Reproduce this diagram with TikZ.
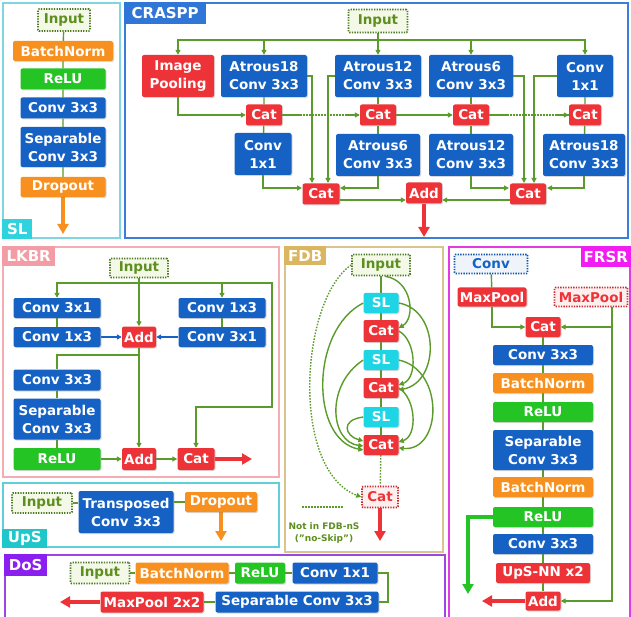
\documentclass[tikz,border=0pt]{standalone}
\usepackage{fontspec}
\setmainfont{DejaVu Sans}
\usetikzlibrary{arrows.meta,shadows,calc}
\definecolor{cblue}{HTML}{1662C4}
\definecolor{cred}{HTML}{EE3338}
\definecolor{corange}{HTML}{F7901E}
\definecolor{cgreen}{HTML}{25C425}
\definecolor{ccyan}{HTML}{1ED5E6}
\definecolor{cwire}{HTML}{5B9B2B}
\definecolor{cdot}{HTML}{4E7A26}
\definecolor{cinfill}{HTML}{F4F8E6}
\definecolor{cintext}{HTML}{5D8F1F}
\definecolor{fSL}{HTML}{7FD6E0}\definecolor{lSL}{HTML}{2ED3DE}
\definecolor{fCR}{HTML}{3C7DD9}\definecolor{lCR}{HTML}{2F76D6}
\definecolor{fLK}{HTML}{F4AEB3}\definecolor{lLK}{HTML}{F49CA5}
\definecolor{fFD}{HTML}{D8C48C}\definecolor{lFD}{HTML}{D9B65F}
\definecolor{fFR}{HTML}{E23BE6}\definecolor{lFR}{HTML}{F01EF0}
\definecolor{fUP}{HTML}{5FCFD8}\definecolor{lUP}{HTML}{1FC7CB}
\definecolor{fDO}{HTML}{9B47E0}\definecolor{lDO}{HTML}{8A1FEF}
\newcommand\boxfont{\bfseries\fontsize{13.5}{18}\selectfont}
\newcommand\labfont{\bfseries\fontsize{15}{18}\selectfont}
\newcommand\legfont{\bfseries\fontsize{9}{12}\selectfont}
\pgfdeclarelayer{panels}\pgfdeclarelayer{wires}
\pgfsetlayers{panels,wires,main}
\begin{document}
\begin{tikzpicture}[x=1pt,y=-1pt,
  box/.style={rounded corners=2pt, text=white, font=\boxfont, align=center, inner sep=0pt,
    drop shadow={shadow xshift=1pt, shadow yshift=-1pt, opacity=0.3}},
  bl/.style={box, fill=cblue}, rd/.style={box, fill=cred}, og/.style={box, fill=corange},
  gn/.style={box, fill=cgreen}, cy/.style={box, fill=ccyan},
  inp/.style={rounded corners=1pt, draw=cdot, fill=cinfill, text=cintext, font=\boxfont,
    line width=1.6pt, dash pattern=on 1.3pt off 1.3pt, inner sep=0pt},
  rdot/.style={inp, draw=cred!85!black, fill=cred!8, text=cred},
  bdot/.style={inp, draw=cblue!85!black, fill=cblue!7, text=cblue},
  sz/.style 2 args={minimum width=#1pt, minimum height=#2pt},
  frame/.style={line width=2pt, fill=white},
  lab/.style={font=\labfont, text=white, inner sep=0pt, anchor=north west},
  conn/.style={draw=cwire, line width=1.4pt},
  bconn/.style={draw=cblue, line width=1.4pt},
  tip/.style={-{Triangle[length=5pt,width=5pt]}},
  dots/.style={dash pattern=on 1.5pt off 1.5pt},
  big/.style={line width=4pt, -{Triangle[length=10pt,width=11pt]}}]
\clip (0,0) rectangle (631,617);
\begin{pgfonlayer}{panels}
\fill[white] (0,0) rectangle (631,617);
\draw[frame, draw=fSL] (3,3) rectangle (120,238);
\draw[frame, draw=fCR] (125,3) rectangle (628,238);
\draw[frame, draw=fLK] (3,247) rectangle (279,477);
\draw[frame, draw=fFD] (285,247) rectangle (443,552);
\draw[frame, draw=fFR] (449,247) rectangle (630,650);
\draw[frame, draw=fUP] (3,483) rectangle (279,547);
\draw[frame, draw=fDO] (5,555) rectangle (445,650);
\end{pgfonlayer}
% labels
\node[lab, fill=lSL, sz={30}{20}, anchor=south west] (sllab) at (2,239) {SL};
\node[lab, fill=lCR, sz={82}{22}] (crlab) at (124,2) {CRASPP};
\node[lab, fill=lLK, sz={53}{20}] (lklab) at (2,246) {LKBR};
\node[lab, fill=lFD, sz={42}{19}] (fdlab) at (284,246) {FDB};
\node[lab, fill=lFR, sz={50}{21}, anchor=north east] (frlab) at (631,246) {FRSR};
\node[lab, fill=lUP, sz={45}{19}, anchor=south west] (uplab) at (2,548) {UpS};
\node[lab, fill=lDO, sz={43}{22}] (dolab) at (4,554) {DoS};

% ===== SL =====
\node[inp, sz={52}{22}] (sin) at (64,20) {Input};
\node[og, sz={100}{20}] (sbn) at (63,51) {BatchNorm};
\node[gn, sz={85}{21}] (srelu) at (63,79) {ReLU};
\node[bl, sz={85}{21}] (sc3) at (63,108) {Conv 3x3};
\node[bl, sz={85}{40}] (ssep) at (63,147) {Separable\\Conv 3x3};
\node[og, sz={85}{20}] (sdrop) at (63,187) {Dropout};
\coordinate (slout) at (63,234);
\begin{pgfonlayer}{wires}
\draw[conn] (sin) -- (sbn) -- (srelu) -- (sc3) -- (ssep) -- (sdrop);
\draw[big, draw=corange] (sdrop) -- (slout);
\end{pgfonlayer}

% ===== CRASPP =====
\node[inp, sz={59}{23}] (cin) at (378,21) {Input};
\node[rd, sz={72}{42}] (cip) at (178,76) {Image\\Pooling};
\node[bl, sz={86}{42}] (ca18) at (264,76) {Atrous18\\Conv 3x3};
\node[bl, sz={86}{42}] (ca12) at (378,76) {Atrous12\\Conv 3x3};
\node[bl, sz={84}{42}] (ca6) at (471,76) {Atrous6\\Conv 3x3};
\node[bl, sz={56}{42}] (cc1) at (585,76) {Conv\\1x1};
\node[rd, sz={36}{21}] (ccat1) at (264,115) {Cat};
\node[rd, sz={36}{21}] (ccat2) at (378,115) {Cat};
\node[rd, sz={36}{21}] (ccat3) at (471,115) {Cat};
\node[rd, sz={32}{21}] (ccat4) at (585,115) {Cat};
\node[bl, sz={57}{42}] (cb1) at (263,154) {Conv\\1x1};
\node[bl, sz={84}{42}] (cb6) at (378,155) {Atrous6\\Conv 3x3};
\node[bl, sz={84}{42}] (cb12) at (471,155) {Atrous12\\Conv 3x3};
\node[bl, sz={82}{42}] (cb18) at (584,155) {Atrous18\\Conv 3x3};
\node[rd, sz={37}{21}] (ccatL) at (321,194) {Cat};
\node[rd, sz={36}{21}] (cadd) at (424,193) {Add};
\node[rd, sz={36}{21}] (ccatR) at (528,194) {Cat};
\coordinate (cbus) at (378,40);
\coordinate (cL1) at (312,183);
\coordinate (cL2) at (328,183);
\coordinate (cR1) at (524,183);
\coordinate (cR2) at (534,183);
\coordinate (cLw) at (302,188);
\coordinate (cLe) at (340,188);
\coordinate (cRw) at (509,188);
\coordinate (cRe) at (547,188);
\coordinate (cout) at (424,237);
\begin{pgfonlayer}{wires}
\draw[conn,tip] (cin) -- (ca12);
\draw[conn,tip] (cbus) -| (cip);
\draw[conn,tip] (cbus) -| (ca18);
\draw[conn,tip] (cbus) -| (ca6);
\draw[conn,tip] (cbus) -| (cc1);
\draw[conn] (ca18) -- (ccat1) -- (cb1);
\draw[conn] (ca12) -- (ccat2) -- (cb6);
\draw[conn] (ca6) -- (ccat3) -- (cb12);
\draw[conn] (cc1) -- (ccat4) -- (cb18);
\draw[conn,tip] (cip) |- (ccat1);
\draw[conn,dots] (ccat1) -- (ccat2);
\draw[conn] (ccat1.east) -- ++(18,0);
\draw[conn,tip] ($(ccat2.west)+(-14,0)$) -- (ccat2.west);
\draw[conn,tip] (ccat2) -- (ccat3);
\draw[conn,dots] (ccat3) -- (ccat4);
\draw[conn] (ccat3.east) -- ++(18,0);
\draw[conn,tip] ($(ccat4.west)+(-14,0)$) -- (ccat4.west);
\draw[conn,tip] (ca18.east) -| (cL1);
\draw[conn,tip] (ca12.west) -| (cL2);
\draw[conn,tip] (cb1) |- (cLw);
\draw[conn,tip] (cb6) |- (cLe);
\draw[conn,tip] (ca6.east) -| (cR1);
\draw[conn,tip] (cc1.west) -| (cR2);
\draw[conn,tip] (cb12) |- (cRw);
\draw[conn,tip] (cb18) |- (cRe);
\draw[conn,tip] ($(ccatL.east)+(0,6)$) -- ($(cadd.west)+(0,7)$);
\draw[conn,tip] ($(ccatR.west)+(0,6)$) -- ($(cadd.east)+(0,7)$);
\draw[big, draw=cred] (cadd) -- (cout);
\end{pgfonlayer}

% ===== LKBR =====
\node[inp, sz={58}{19}] (lin) at (139,268) {Input};
\node[bl, sz={87}{20}] (l31) at (57,308) {Conv 3x1};
\node[bl, sz={87}{20}] (l13) at (57,337) {Conv 1x3};
\node[rd, sz={34}{21}] (ladd1) at (139,337) {Add};
\node[bl, sz={87}{20}] (r13) at (222,308) {Conv 1x3};
\node[bl, sz={87}{20}] (r31) at (222,337) {Conv 3x1};
\node[bl, sz={87}{21}] (l33) at (57,380) {Conv 3x3};
\node[bl, sz={87}{41}] (lsep) at (57,419) {Separable\\Conv 3x3};
\node[gn, sz={87}{22}] (lrelu) at (57,459) {ReLU};
\node[rd, sz={34}{22}] (ladd2) at (139,459) {Add};
\node[rd, sz={37}{22}] (lcat) at (196,459) {Cat};
\coordinate (lbus) at (139,283);
\coordinate (lR1) at (272,283);
\coordinate (lR2) at (272,407);
\coordinate (lbr) at (139,355);
\coordinate (lkout) at (252,459);
\begin{pgfonlayer}{wires}
\draw[conn,tip] (lin) -- (ladd1);
\draw[conn,tip] (lbus) -| (l31);
\draw[conn,tip] (lbus) -| (r13);
\draw[conn,tip] (lbus) -- (lR1) -- (lR2) -| (lcat);
\draw[conn] (l31) -- (l13);
\draw[conn] (r13) -- (r31);
\draw[bconn,tip] (l13) -- (ladd1);
\draw[bconn,tip] (r31) -- (ladd1);
\draw[conn,tip] (ladd1) -- (ladd2);
\draw[conn] (lbr) -| (l33);
\draw[conn] (l33) -- (lsep) -- (lrelu);
\draw[conn,tip] (lrelu) -- (ladd2);
\draw[conn,tip] (ladd2) -- (lcat);
\draw[big, draw=cred] (lcat) -- (lkout);
\end{pgfonlayer}

% ===== FDB =====
\node[inp, sz={58}{21}] (fin) at (381,265) {Input};
\node[cy, sz={35}{20}] (fsl1) at (381,303) {SL};
\node[rd, sz={35}{22}] (fcat1) at (381,331) {Cat};
\node[cy, sz={35}{20}] (fsl2) at (381,360) {SL};
\node[rd, sz={35}{20}] (fcat2) at (381,388) {Cat};
\node[cy, sz={35}{20}] (fsl3) at (381,417) {SL};
\node[rd, sz={35}{20}] (fcat3) at (381,445) {Cat};
\node[rdot, sz={36}{21}] (fcat4) at (380,497) {Cat};
\node[text=cintext, font=\legfont, align=center, inner sep=1pt] (fleg) at (324,533) {Not in FDB-nS\\("no-Skip")};
\coordinate (fl1) at (302,507);
\coordinate (fl2) at (343,507);
\coordinate (fdbout) at (380,541);
\begin{pgfonlayer}{wires}
\draw[conn] (fin) -- (fsl1) -- (fcat1) -- (fsl2) -- (fcat2) -- (fsl3) -- (fcat3);
\draw[conn,dots] (fcat3) -- (fcat4);
\draw[conn,dots] (fl1) -- (fl2);
\draw[conn,dots,tip] (fin.west) .. controls (300,300) and (290,470) .. (fcat4.west);
\draw[conn,tip] ($(fin.south)+(4,0)$) .. controls (412,280) and (416,318) .. ($(fcat1.east)+(0,-3)$);
\draw[conn,tip] (fsl1.east) .. controls (440,310) and (440,382) .. ($(fcat2.east)+(0,2)$);
\draw[conn,tip] (fcat1.east) .. controls (416,340) and (418,378) .. ($(fcat2.east)+(0,-3)$);
\draw[conn,tip] (fsl2.east) .. controls (445,370) and (442,452) .. ($(fcat3.east)+(0,3)$);
\draw[conn,tip] (fcat2.east) .. controls (416,398) and (418,436) .. ($(fcat3.east)+(0,-3)$);
\draw[conn,tip] (fsl1.west) .. controls (310,330) and (310,440) .. ($(fcat3.west)+(0,5)$);
\draw[conn,tip] (fsl2.west) .. controls (325,385) and (330,442) .. ($(fcat3.west)+(0,1)$);
\draw[conn,tip] (fsl3.west) .. controls (340,420) and (345,436) .. ($(fcat3.west)+(0,-4)$);
\draw[big, draw=cred] (fcat4) -- (fdbout);
\end{pgfonlayer}

% ===== FRSR =====
\node[bdot, sz={73}{19}] (fconv) at (491,264) {Conv};
\node[rd, sz={69}{19}] (fmp) at (492,297) {MaxPool};
\node[rdot, sz={73}{19}] (fmpd) at (591,297) {MaxPool};
\node[rd, sz={35}{20}] (fcat) at (543,327) {Cat};
\node[bl, sz={100}{20}] (fc3) at (543,355) {Conv 3x3};
\node[og, sz={100}{20}] (fbn) at (543,383) {BatchNorm};
\node[gn, sz={100}{20}] (frelu) at (543,412) {ReLU};
\node[bl, sz={100}{40}] (fsep) at (543,450) {Separable\\Conv 3x3};
\node[og, sz={100}{20}] (fbn2) at (543,487) {BatchNorm};
\node[gn, sz={100}{20}] (frelu2) at (543,517) {ReLU};
\node[bl, sz={100}{20}] (fc3b) at (543,544) {Conv 3x3};
\node[rd, sz={94}{20}] (fups) at (543,573) {UpS-NN x2};
\node[rd, sz={35}{19}] (fadd) at (543,601) {Add};
\coordinate (fR0) at (612,306.5);
\coordinate (fR1) at (612,327);
\coordinate (fg1) at (468,517);
\coordinate (fg2) at (468,594);
\coordinate (fredout) at (482,601);
\begin{pgfonlayer}{wires}
\draw[conn] (fconv) -- (fmp);
\draw[conn,tip] (fmp) |- (fcat);
\draw[conn,tip] (fR0) |- (fadd);
\draw[conn,tip] (fR1) -- (fcat);
\draw[conn] (fcat) -- (fc3) -- (fbn) -- (frelu) -- (fsep) -- (fbn2) -- (frelu2) -- (fc3b) -- (fups) -- (fadd);
\draw[big, draw=cgreen] (frelu2.west) -- (fg1) -- (fg2);
\draw[big, draw=cred] (fadd) -- (fredout);
\end{pgfonlayer}

% ===== UpS =====
\node[inp, sz={60}{20}] (uin) at (42,503) {Input};
\node[bl, sz={95}{42}] (utc) at (126,512) {Transposed\\Conv 3x3};
\node[og, sz={72}{20}] (udrop) at (221,502) {Dropout};
\coordinate (upsout) at (221,541);
\begin{pgfonlayer}{wires}
\draw[conn] (uin.east) -- (utc.west |- uin.east);
\draw[conn] (utc.east |- udrop.west) -- (udrop.west);
\draw[big, draw=corange] (udrop) -- (upsout);
\end{pgfonlayer}

% ===== DoS =====
\node[inp, sz={59}{21}] (din) at (100,573) {Input};
\node[og, sz={93}{21}] (dbn) at (182,573) {BatchNorm};
\node[gn, sz={50}{21}] (drelu) at (260,573) {ReLU};
\node[bl, sz={85}{21}] (dc1) at (335,573) {Conv 1x1};
\node[bl, sz={163}{21}] (dsep) at (297,602) {Separable Conv 3x3};
\node[rd, sz={103}{21}] (dmp) at (152,602) {MaxPool 2x2};
\coordinate (dt1) at (388,573);
\coordinate (dt2) at (388,602);
\coordinate (dosout) at (60,602);
\begin{pgfonlayer}{wires}
\draw[conn] (din) -- (dbn) -- (drelu) -- (dc1);
\draw[conn] (dc1) -- (dt1) -- (dt2) -- (dsep);
\draw[conn] (dsep) -- (dmp);
\draw[big, draw=cred] (dmp) -- (dosout);
\end{pgfonlayer}
\end{tikzpicture}
\end{document}
